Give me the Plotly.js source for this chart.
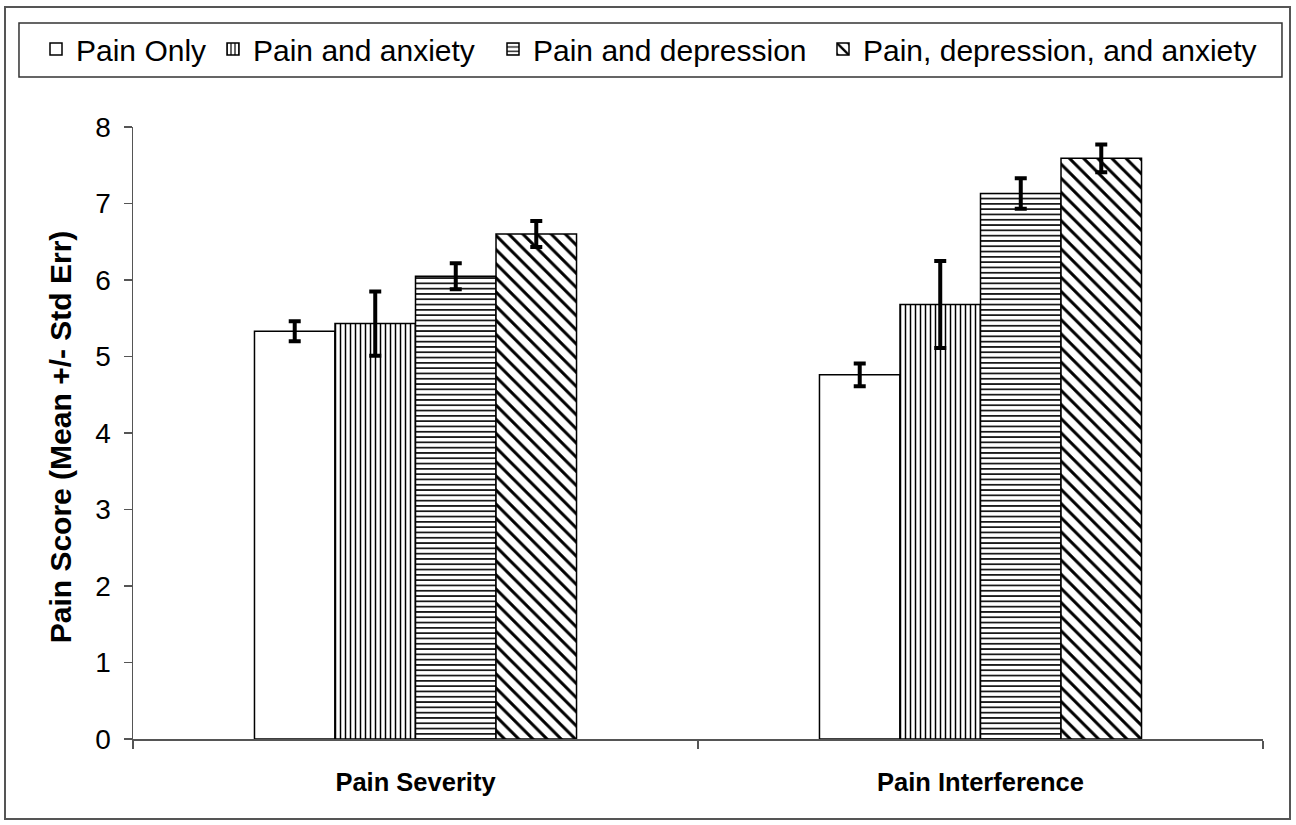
<!DOCTYPE html>
<html>
<head>
<meta charset="utf-8">
<script src="https://cdn.plot.ly/plotly-3.0.1.min.js"></script>
<style>
  html, body { margin: 0; padding: 0; background: #fff; }
  #wrap { position: relative; width: 1296px; height: 825px; }
  #chart { width: 1296px; height: 825px; }
  #frame { position: absolute; left: 4px; top: 6px; width: 1287px; height: 814px;
           border: 2px solid #555; box-sizing: border-box; pointer-events: none; }
</style>
</head>
<body>
<div id="wrap">
  <div id="chart"></div>
  <div id="frame"></div>
</div>
<script>
// ---- data ----
const categories = ["Pain Severity", "Pain Interference"];
const seriesNames = ["Pain Only", "Pain and anxiety", "Pain and depression", "Pain, depression, and anxiety"];
const painOnly = [5.33, 4.76];
const painOnlyErr = [0.13, 0.15];
const painAnxiety = [5.43, 5.68];
const painAnxietyErr = [0.42, 0.57];
const painDepression = [6.05, 7.13];
const painDepressionErr = [0.17, 0.20];
const painDepAnx = [6.60, 7.59];
const painDepAnxErr = [0.17, 0.18];
const yTicks = [0, 1, 2, 3, 4, 5, 6, 7, 8];
const yTitle = "Pain Score (Mean +/- Std Err)";

const values = [painOnly, painAnxiety, painDepression, painDepAnx];
const errors = [painOnlyErr, painAnxietyErr, painDepressionErr, painDepAnxErr];
const patterns = [
  { shape: "", size: 8, solidity: 0.3 },
  { shape: "|", size: 5, solidity: 0.3 },
  { shape: "-", size: 5.3, solidity: 0.3 },
  { shape: "\\", size: 10, solidity: 0.3 }
];
// one legend per series so the entries can sit where the reference puts them
const legendIds = ["legend", "legend2", "legend3", "legend4"];
const legendX = [36, 213, 493, 823];   // container px of each legend entry

const FONT = "Arial, 'Liberation Sans', sans-serif";
const W = 1296, H = 825;

const traces = values.map((v, i) => ({
  type: "bar",
  name: seriesNames[i],
  legend: legendIds[i],
  x: categories,
  y: v,
  marker: {
    color: "#ffffff",
    line: { color: "#000000", width: 1.5 },
    pattern: { shape: patterns[i].shape, size: patterns[i].size, solidity: patterns[i].solidity,
               fgcolor: "#000000", bgcolor: "#ffffff", fillmode: "replace" }
  },
  error_y: { type: "data", array: errors[i], visible: true, color: "#000000", thickness: 4, width: 6 }
}));

const layout = {
  width: W, height: H,
  paper_bgcolor: "#ffffff", plot_bgcolor: "#ffffff",
  margin: { l: 133, r: 33, t: 127, b: 86 },
  barmode: "group", bargap: 0.43, bargroupgap: 0,
  font: { family: FONT, color: "#000000" },
  showlegend: true,
  shapes: [{
    type: "rect", xref: "paper", yref: "paper",
    x0: -0.1009, x1: 1.0168, y0: 1.0817, y1: 1.1699,
    line: { color: "#333333", width: 1.5 }, fillcolor: "rgba(0,0,0,0)", layer: "below"
  }],
  annotations: [{
    text: "<b>" + yTitle + "</b>", textangle: -90,
    xref: "paper", yref: "paper", x: -0.0646, y: 0.493, xanchor: "center", yanchor: "middle",
    showarrow: false, font: { family: FONT, size: 30, color: "#000000" }
  }],
  xaxis: {
    type: "category",
    showline: true, linecolor: "#555555", linewidth: 1.5,
    ticks: "outside", ticklen: 8, tickcolor: "#555555", tickwidth: 1.5,
    tickson: "boundaries",
    showgrid: false, zeroline: false,
    tickfont: { family: FONT, size: 25.5, color: "#000000", weight: "bold" },
    ticklabelstandoff: 20
  },
  yaxis: {
    range: [0, 8], tickvals: yTicks, ticktext: yTicks.map(String),
    showline: true, linecolor: "#555555", linewidth: 1.5,
    ticks: "outside", ticklen: 8, tickcolor: "#555555", tickwidth: 1.5,
    showgrid: false, zeroline: false,
    tickfont: { family: FONT, size: 28, color: "#000000" },
    ticklabelstandoff: 7
  }
};

legendIds.forEach((id, i) => {
  layout[id] = {
    orientation: "h", xref: "container", yref: "container",
    x: legendX[i] / W, xanchor: "left", y: 0.972, yanchor: "top",
    borderwidth: 0, bgcolor: "rgba(0,0,0,0)",
    font: { family: FONT, size: 30, color: "#000000" },
    itemwidth: 30
  };
});

Plotly.newPlot("chart", traces, layout, { displayModeBar: false, staticPlot: true });
</script>
</body>
</html>
